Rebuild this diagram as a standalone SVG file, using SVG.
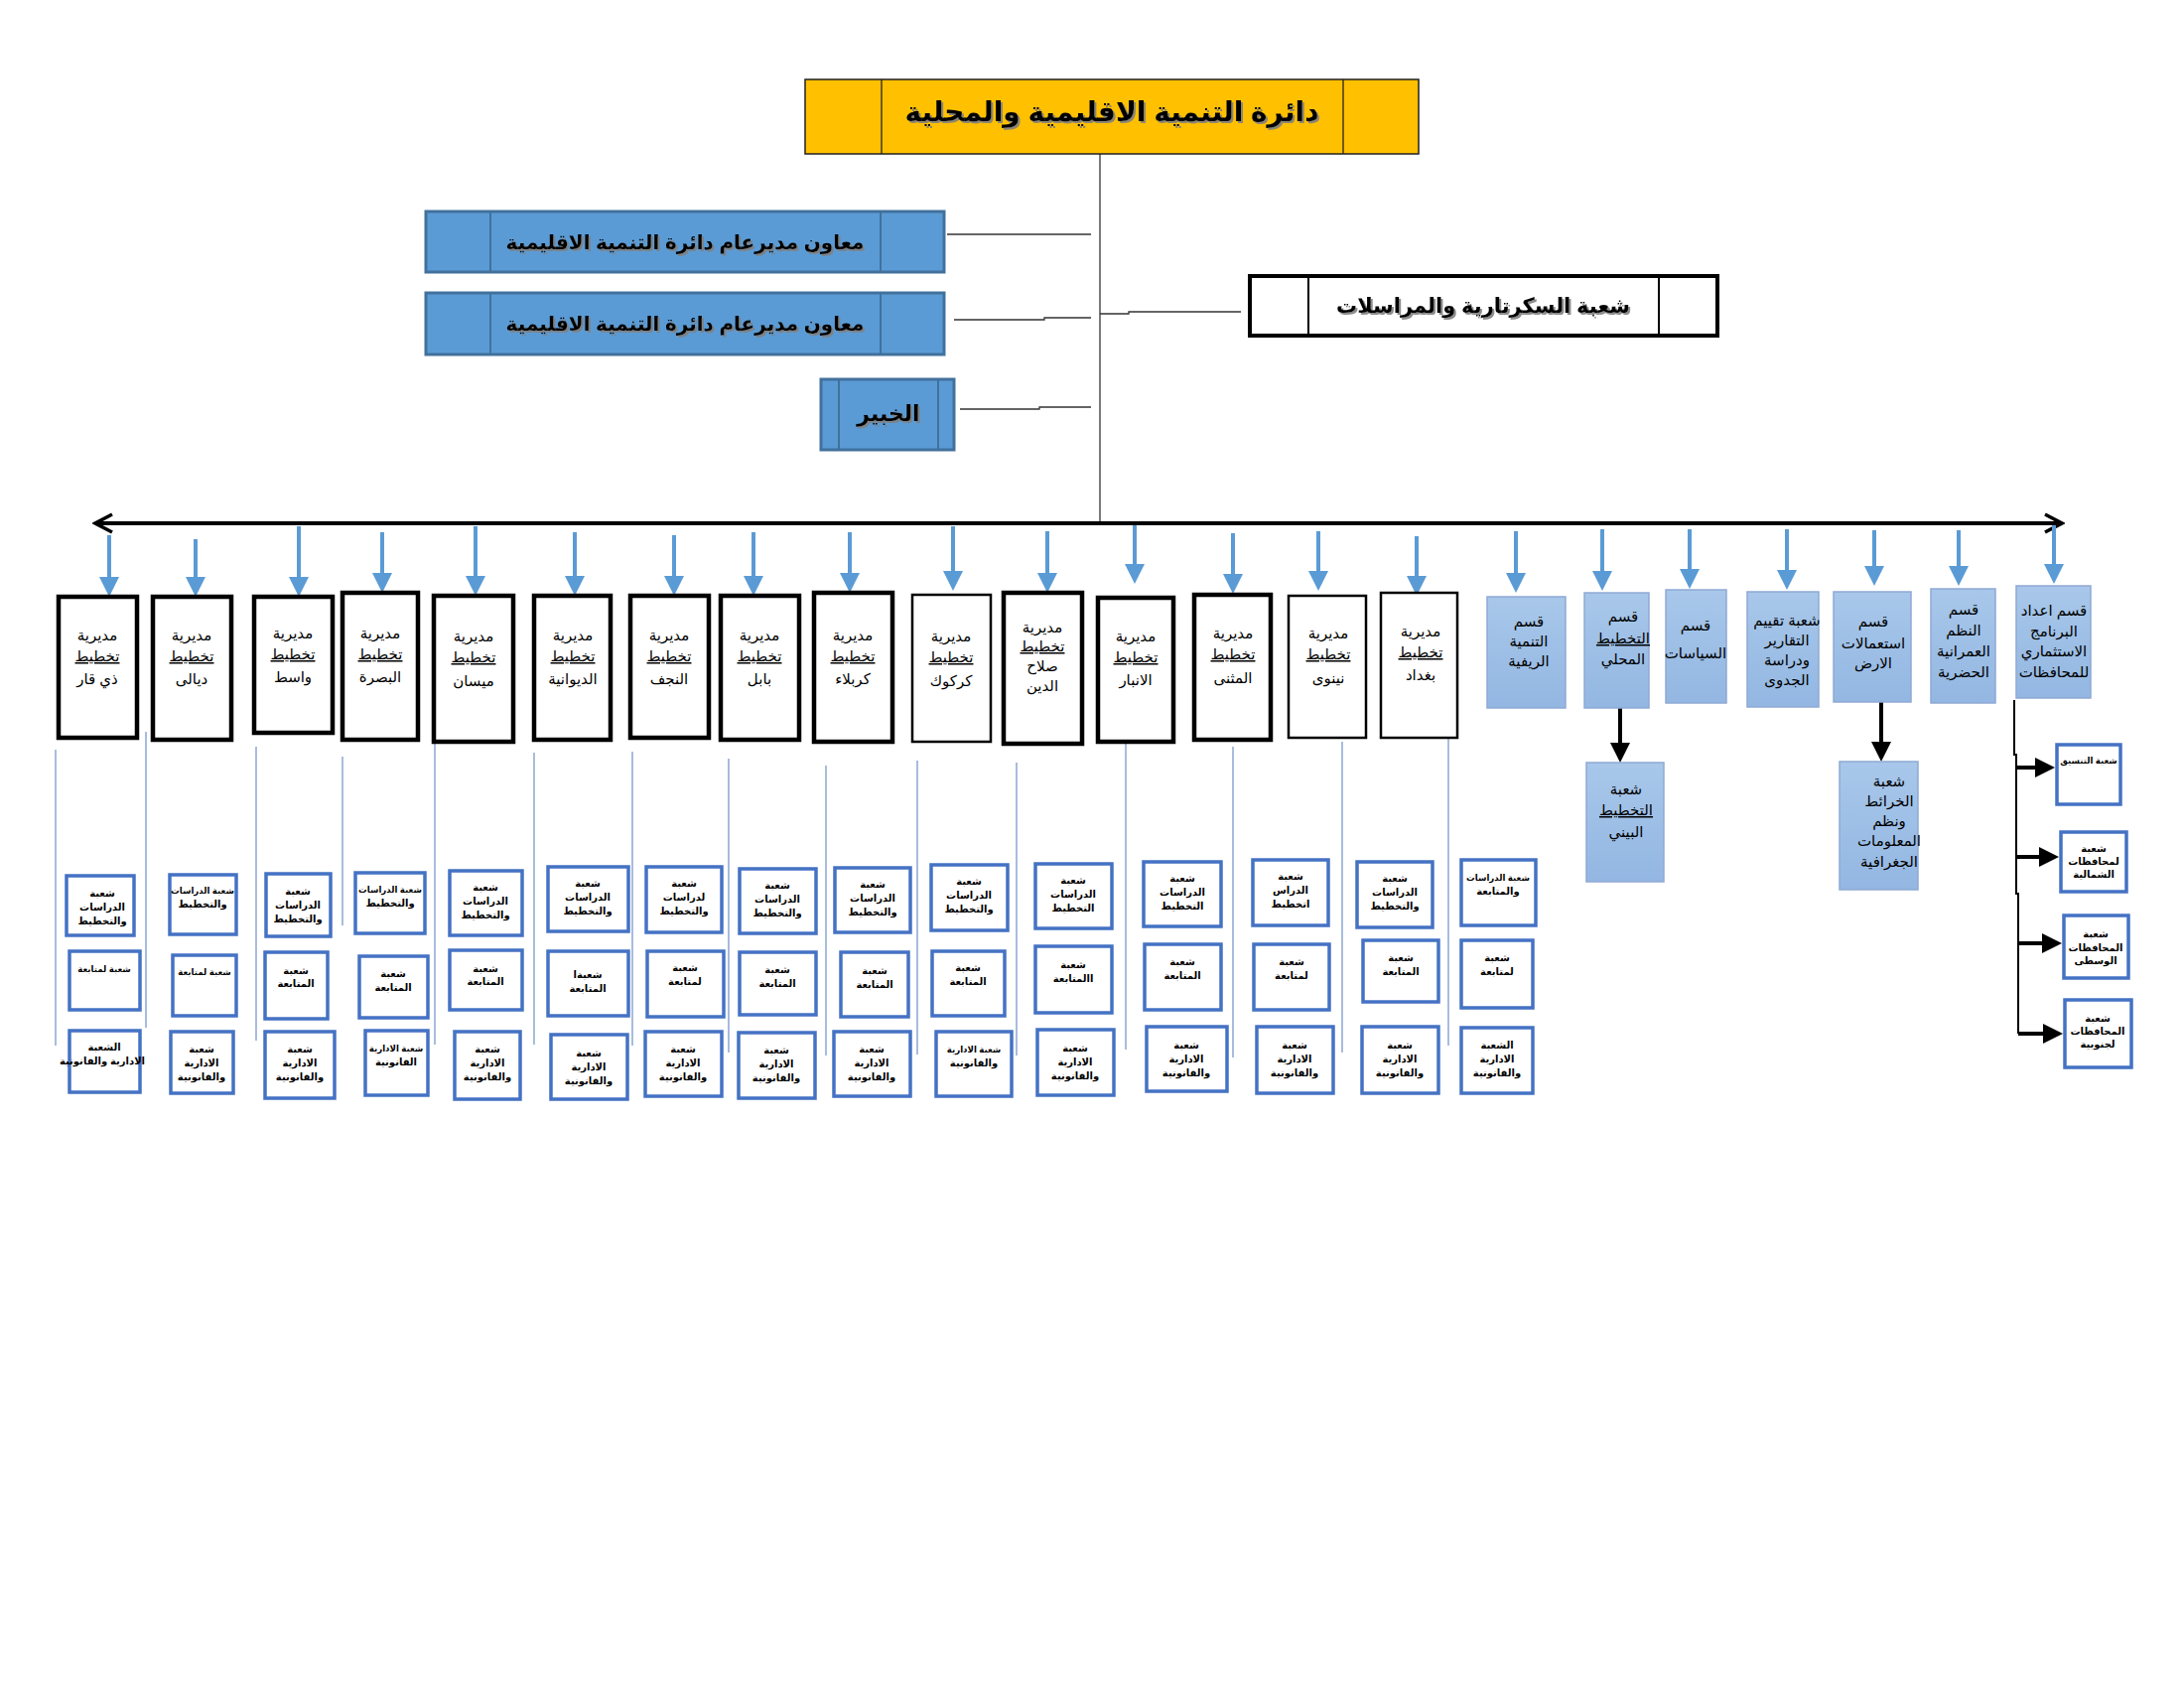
<svg xmlns="http://www.w3.org/2000/svg" width="2200" height="1700" viewBox="0 0 2200 1700">
<defs>
<style>
text{font-family:"Liberation Sans","DejaVu Sans",sans-serif;text-anchor:middle;fill:#000}
.hd{font-weight:bold}
.dir rect{fill:#fff;stroke:#000;stroke-width:4.5}
.dir.thin rect{stroke-width:2.5}
.dir text{font-size:15px}
.sub rect{fill:#fff;stroke:#4472C4;stroke-width:3.5}
.sub text{font-size:10px;font-weight:bold}
.sub text.sm{font-size:8.6px}
.sec rect{fill:url(#gb);stroke:#8EA9D4;stroke-width:1.5}
.sec text{font-size:15px}
.ul{text-decoration:underline}
.ba{stroke:#5B9BD5;stroke-width:4;fill:none}
.ka{stroke:#000;stroke-width:4;fill:none}
.hang{stroke:#6F8FC8;stroke-width:1.2;fill:none}
.thinline{stroke:#333;stroke-width:1.3;fill:none}
.blue rect{fill:#5B9BD5;stroke:#41719C;stroke-width:3}
.blue line{stroke:#41719C;stroke-width:2}
</style>
<linearGradient id="gb" x1="0" y1="0" x2="0" y2="1"><stop offset="0" stop-color="#A8C7EA"/><stop offset="1" stop-color="#93B7E2"/></linearGradient>
<filter id="sh" x="-5%" y="-20%" width="110%" height="140%"><feDropShadow dx="2" dy="2" stdDeviation="0.6" flood-color="#7f7f7f" flood-opacity="0.9"/></filter>
<marker id="mb" viewBox="0 0 20 20" refX="0" refY="10" markerWidth="20" markerHeight="20" markerUnits="userSpaceOnUse" orient="auto"><path d="M0,0 L20,10 L0,20 z" fill="#5B9BD5"/></marker>
<marker id="mk" viewBox="0 0 20 20" refX="0" refY="10" markerWidth="20" markerHeight="20" markerUnits="userSpaceOnUse" orient="auto"><path d="M0,0 L20,10 L0,20 z" fill="#000"/></marker>
<marker id="mo" viewBox="0 0 22 22" refX="19" refY="11" markerWidth="22" markerHeight="22" markerUnits="userSpaceOnUse" orient="auto-start-reverse"><path d="M2,2 L19,11 L2,20" fill="none" stroke="#000" stroke-width="3.5"/></marker>
</defs>
<rect width="2200" height="1700" fill="#fff"/>

<g id="connectors">
<line class="thinline" x1="1108" y1="155" x2="1108" y2="527"/>
<polyline class="thinline" points="954,236 1099,236"/>
<polyline class="thinline" points="961,322 1052,322 1052,320 1099,320"/>
<polyline class="thinline" points="967,412 1047,412 1047,410 1099,410"/>
<polyline class="thinline" points="1108,316 1137,316 1137,314 1250,314"/>
<line x1="96" y1="527" x2="2077" y2="527" stroke="#000" stroke-width="4" marker-start="url(#mo)" marker-end="url(#mo)"/>
<line class="ba" x1="110" y1="539" x2="110" y2="581" marker-end="url(#mb)"/>
<line class="ba" x1="197" y1="543" x2="197" y2="581" marker-end="url(#mb)"/>
<line class="ba" x1="301" y1="530" x2="301" y2="581" marker-end="url(#mb)"/>
<line class="ba" x1="385" y1="536" x2="385" y2="577" marker-end="url(#mb)"/>
<line class="ba" x1="479" y1="530" x2="479" y2="580" marker-end="url(#mb)"/>
<line class="ba" x1="579" y1="536" x2="579" y2="580" marker-end="url(#mb)"/>
<line class="ba" x1="679" y1="539" x2="679" y2="580" marker-end="url(#mb)"/>
<line class="ba" x1="759" y1="536" x2="759" y2="580" marker-end="url(#mb)"/>
<line class="ba" x1="856" y1="536" x2="856" y2="577" marker-end="url(#mb)"/>
<line class="ba" x1="960" y1="530" x2="960" y2="575" marker-end="url(#mb)"/>
<line class="ba" x1="1055" y1="535" x2="1055" y2="577" marker-end="url(#mb)"/>
<line class="ba" x1="1143" y1="529" x2="1143" y2="568" marker-end="url(#mb)"/>
<line class="ba" x1="1242" y1="537" x2="1242" y2="578" marker-end="url(#mb)"/>
<line class="ba" x1="1328" y1="535" x2="1328" y2="575" marker-end="url(#mb)"/>
<line class="ba" x1="1427" y1="540" x2="1427" y2="580" marker-end="url(#mb)"/>
<line class="ba" x1="1527" y1="535" x2="1527" y2="577" marker-end="url(#mb)"/>
<line class="ba" x1="1614" y1="533" x2="1614" y2="575" marker-end="url(#mb)"/>
<line class="ba" x1="1702" y1="533" x2="1702" y2="573" marker-end="url(#mb)"/>
<line class="ba" x1="1800" y1="533" x2="1800" y2="574" marker-end="url(#mb)"/>
<line class="ba" x1="1888" y1="534" x2="1888" y2="570" marker-end="url(#mb)"/>
<line class="ba" x1="1973" y1="534" x2="1973" y2="570" marker-end="url(#mb)"/>
<line class="ba" x1="2069" y1="529" x2="2069" y2="568" marker-end="url(#mb)"/>
<line class="ka" x1="1632" y1="713" x2="1632" y2="748" marker-end="url(#mk)"/>
<line class="ka" x1="1895" y1="707" x2="1895" y2="747" marker-end="url(#mk)"/>
<polyline points="2029,705 2029,760 2031,760 2031,900 2033,900 2033,1041" fill="none" stroke="#000" stroke-width="2"/>
<line class="ka" x1="2030" y1="773" x2="2050" y2="773" marker-end="url(#mk)"/>
<line class="ka" x1="2031" y1="863" x2="2054" y2="863" marker-end="url(#mk)"/>
<line class="ka" x1="2032" y1="950" x2="2057" y2="950" marker-end="url(#mk)"/>
<line class="ka" x1="2033" y1="1041" x2="2058" y2="1041" marker-end="url(#mk)"/>
<line class="hang" x1="56" y1="755" x2="56" y2="1053"/>
<line class="hang" x1="147" y1="737" x2="147" y2="1035"/>
<line class="hang" x1="258" y1="752" x2="258" y2="1048"/>
<line class="hang" x1="345" y1="762" x2="345" y2="932"/>
<line class="hang" x1="438" y1="745" x2="438" y2="1052"/>
<line class="hang" x1="538" y1="758" x2="538" y2="1052"/>
<line class="hang" x1="637" y1="757" x2="637" y2="1053"/>
<line class="hang" x1="734" y1="764" x2="734" y2="1060"/>
<line class="hang" x1="832" y1="771" x2="832" y2="1063"/>
<line class="hang" x1="924" y1="766" x2="924" y2="1062"/>
<line class="hang" x1="1024" y1="768" x2="1024" y2="1063"/>
<line class="hang" x1="1134" y1="745" x2="1134" y2="1057"/>
<line class="hang" x1="1242" y1="752" x2="1242" y2="1065"/>
<line class="hang" x1="1352" y1="747" x2="1352" y2="1060"/>
<line class="hang" x1="1459" y1="738" x2="1459" y2="1053"/>
</g>

<g id="n-title">
<rect x="811" y="80" width="618" height="75" fill="#FFC000" stroke="#222" stroke-width="1.5"/>
<line x1="888" y1="80" x2="888" y2="155" stroke="#222" stroke-width="1.3"/>
<line x1="1353" y1="80" x2="1353" y2="155" stroke="#222" stroke-width="1.3"/>
<text class="hd" x="1120" y="122" font-size="28" filter="url(#sh)">دائرة التنمية الاقليمية والمحلية</text>
</g>
<g id="n-deputy1" class="blue">
<rect x="429" y="213" width="522" height="61"/>
<line x1="494" y1="213" x2="494" y2="274"/><line x1="887" y1="213" x2="887" y2="274"/>
<text class="hd" x="690" y="251" font-size="20" filter="url(#sh)">معاون مديرعام دائرة التنمية الاقليمية</text>
</g>
<g id="n-deputy2" class="blue">
<rect x="429" y="295" width="522" height="62"/>
<line x1="494" y1="295" x2="494" y2="357"/><line x1="887" y1="295" x2="887" y2="357"/>
<text class="hd" x="690" y="333" font-size="20" filter="url(#sh)">معاون مديرعام دائرة التنمية الاقليمية</text>
</g>
<g id="n-expert" class="blue">
<rect x="827" y="382" width="134" height="71"/>
<line x1="845" y1="382" x2="845" y2="453"/><line x1="945" y1="382" x2="945" y2="453"/>
<text class="hd" x="895" y="424" font-size="22" filter="url(#sh)">الخبير</text>
</g>
<g id="n-secretary">
<rect x="1259" y="278" width="471" height="60" fill="#fff" stroke="#000" stroke-width="4"/>
<line x1="1318" y1="278" x2="1318" y2="338" stroke="#000" stroke-width="2"/>
<line x1="1671" y1="278" x2="1671" y2="338" stroke="#000" stroke-width="2"/>
<text class="hd" x="1494" y="315" font-size="21" filter="url(#sh)">شعبة السكرتارية والمراسلات</text>
</g>

<g id="n-d01" class="dir"><rect x="59" y="601" width="79" height="142"/><text x="98" y="645">مديرية</text><text x="98" y="666" class="ul">تخطيط</text><text x="98" y="689">ذي قار</text></g>
<g id="n-d02" class="dir"><rect x="154" y="601" width="79" height="144"/><text x="193" y="645">مديرية</text><text x="193" y="666" class="ul">تخطيط</text><text x="193" y="689">ديالى</text></g>
<g id="n-d03" class="dir"><rect x="256" y="601" width="79" height="137"/><text x="295" y="643">مديرية</text><text x="295" y="664" class="ul">تخطيط</text><text x="295" y="687">واسط</text></g>
<g id="n-d04" class="dir"><rect x="345" y="597" width="76" height="148"/><text x="383" y="643">مديرية</text><text x="383" y="664" class="ul">تخطيط</text><text x="383" y="687">البصرة</text></g>
<g id="n-d05" class="dir"><rect x="437" y="600" width="80" height="147"/><text x="477" y="646">مديرية</text><text x="477" y="667" class="ul">تخطيط</text><text x="477" y="691">ميسان</text></g>
<g id="n-d06" class="dir"><rect x="538" y="600" width="77" height="145"/><text x="577" y="645">مديرية</text><text x="577" y="666" class="ul">تخطيط</text><text x="577" y="689">الديوانية</text></g>
<g id="n-d07" class="dir"><rect x="635" y="600" width="79" height="143"/><text x="674" y="645">مديرية</text><text x="674" y="666" class="ul">تخطيط</text><text x="674" y="689">النجف</text></g>
<g id="n-d08" class="dir"><rect x="726" y="600" width="79" height="145"/><text x="765" y="645">مديرية</text><text x="765" y="666" class="ul">تخطيط</text><text x="765" y="689">بابل</text></g>
<g id="n-d09" class="dir"><rect x="820" y="597" width="79" height="150"/><text x="859" y="645">مديرية</text><text x="859" y="666" class="ul">تخطيط</text><text x="859" y="689">كربلاء</text></g>
<g id="n-d10" class="dir thin"><rect x="919" y="599" width="79" height="148"/><text x="958" y="646">مديرية</text><text x="958" y="667" class="ul">تخطيط</text><text x="958" y="691">كركوك</text></g>
<g id="n-d11" class="dir"><rect x="1011" y="597" width="79" height="152"/><text x="1050" y="637">مديرية</text><text x="1050" y="656" class="ul">تخطيط</text><text x="1050" y="676">صلاح</text><text x="1050" y="696">الدين</text></g>
<g id="n-d12" class="dir"><rect x="1106" y="602" width="76" height="145"/><text x="1144" y="646">مديرية</text><text x="1144" y="667" class="ul">تخطيط</text><text x="1144" y="690">الانبار</text></g>
<g id="n-d13" class="dir"><rect x="1203" y="599" width="77" height="146"/><text x="1242" y="643">مديرية</text><text x="1242" y="664" class="ul">تخطيط</text><text x="1242" y="688">المثنى</text></g>
<g id="n-d14" class="dir thin"><rect x="1298" y="600" width="78" height="143"/><text x="1338" y="643">مديرية</text><text x="1338" y="664" class="ul">تخطيط</text><text x="1338" y="688">نينوى</text></g>
<g id="n-d15" class="dir thin"><rect x="1391" y="597" width="77" height="146"/><text x="1431" y="641">مديرية</text><text x="1431" y="662" class="ul">تخطيط</text><text x="1431" y="685">بغداد</text></g>

<g id="n-s01" class="sec"><rect x="1498" y="601" width="79" height="112"/><text x="1540" y="631">قسم</text><text x="1540" y="651">التنمية</text><text x="1540" y="671">الريفية</text></g>
<g id="n-s02" class="sec"><rect x="1596" y="597" width="65" height="116"/><text x="1635" y="626">قسم</text><text x="1635" y="648" class="ul">التخطيط</text><text x="1635" y="669">المحلي</text></g>
<g id="n-s03" class="sec"><rect x="1678" y="594" width="61" height="114"/><text x="1708" y="635" font-size="12">قسم</text><text x="1708" y="663" font-size="13">السياسات</text></g>
<g id="n-s04" class="sec"><rect x="1760" y="596" width="72" height="116"/><text x="1800" y="630">شعبة تقييم</text><text x="1800" y="650">التقارير</text><text x="1800" y="670">ودراسة</text><text x="1800" y="690">الجدوى</text></g>
<g id="n-s05" class="sec"><rect x="1847" y="596" width="78" height="111"/><text x="1887" y="631" font-size="10">قسم</text><text x="1887" y="653">استعمالات</text><text x="1887" y="673">الارض</text></g>
<g id="n-s06" class="sec"><rect x="1945" y="593" width="65" height="115"/><text x="1978" y="619">قسم</text><text x="1978" y="640">النظم</text><text x="1978" y="661">العمرانية</text><text x="1978" y="682">الحضرية</text></g>
<g id="n-s07" class="sec"><rect x="2031" y="590" width="75" height="113"/><text x="2069" y="620">قسم اعداد</text><text x="2069" y="641">البرنامج</text><text x="2069" y="661">الاستثماري</text><text x="2069" y="682">للمحافظات</text></g>
<g id="n-s08" class="sec"><rect x="1598" y="768" width="78" height="120"/><text x="1638" y="800">شعبة</text><text x="1638" y="821" class="ul">التخطيط</text><text x="1638" y="843">البيني</text></g>
<g id="n-s09" class="sec"><rect x="1853" y="767" width="79" height="129"/><text x="1903" y="792">شعبة</text><text x="1903" y="812">الخرائط</text><text x="1903" y="832">ونظم</text><text x="1903" y="852">المعلومات</text><text x="1903" y="873">الجغرافية</text></g>

<g id="n-b01" class="sub"><rect x="2072" y="750" width="64" height="60"/><text x="2104" y="769" class="sm">شعبة التنسيق</text></g>
<g id="n-b02" class="sub"><rect x="2076" y="838" width="66" height="60"/><text x="2109" y="858" font-size="9.5">شعبة</text><text x="2109" y="871" font-size="9.5">لمحافظات</text><text x="2109" y="884" font-size="9.5">الشمالية</text></g>
<g id="n-b03" class="sub"><rect x="2079" y="922" width="65" height="63"/><text x="2111" y="944" font-size="9.5">شعبة</text><text x="2111" y="958" font-size="9.5">المحافظات</text><text x="2111" y="971" font-size="9.5">الوسطى</text></g>
<g id="n-b04" class="sub"><rect x="2080" y="1007" width="67" height="68"/><text x="2113" y="1029" font-size="9.5">شعبة</text><text x="2113" y="1042" font-size="9.5">المحافظات</text><text x="2113" y="1055" font-size="9.5">لجنوبية</text></g>

<g id="n-c01r1" class="sub"><rect x="67" y="882" width="68" height="60"/><text x="103" y="903">شعبة</text><text x="103" y="917">الدراسات</text><text x="103" y="931">والتخطيط</text></g>
<g id="n-c01r2" class="sub"><rect x="70" y="958" width="71" height="59"/><text x="105" y="979" class="sm">شعبة لمتابعة</text></g>
<g id="n-c01r3" class="sub"><rect x="70" y="1038" width="71" height="62"/><text x="105" y="1058">الشعبة</text><text x="103" y="1072" font-size="7.6px">الادارية والقانونية</text></g>
<g id="n-c02r1" class="sub"><rect x="171" y="881" width="67" height="60"/><text x="204" y="900" class="sm">شعبة الدراسات</text><text x="204" y="914">والتخطيط</text></g>
<g id="n-c02r2" class="sub"><rect x="174" y="962" width="64" height="61"/><text x="206" y="982" class="sm">شعبة لمتابعة</text></g>
<g id="n-c02r3" class="sub"><rect x="172" y="1039" width="63" height="62"/><text x="203" y="1060">شعبة</text><text x="203" y="1074">الادارية</text><text x="203" y="1088">والقانونية</text></g>
<g id="n-c03r1" class="sub"><rect x="268" y="880" width="65" height="63"/><text x="300" y="901">شعبة</text><text x="300" y="915">الدراسات</text><text x="300" y="929">والتخطيط</text></g>
<g id="n-c03r2" class="sub"><rect x="267" y="959" width="63" height="67"/><text x="298" y="981">شعبة</text><text x="298" y="994">المتابعة</text></g>
<g id="n-c03r3" class="sub"><rect x="267" y="1039" width="70" height="67"/><text x="302" y="1060">شعبة</text><text x="302" y="1074">الادارية</text><text x="302" y="1088">والقانونية</text></g>
<g id="n-c04r1" class="sub"><rect x="358" y="879" width="70" height="61"/><text x="393" y="899" class="sm">شعبة الدراسات</text><text x="393" y="913">والتخطيط</text></g>
<g id="n-c04r2" class="sub"><rect x="362" y="963" width="69" height="62"/><text x="396" y="984">شعبة</text><text x="396" y="998">المتابعة</text></g>
<g id="n-c04r3" class="sub"><rect x="368" y="1038" width="63" height="65"/><text x="399" y="1059" class="sm">شعبة الادارية</text><text x="399" y="1073">القانونية</text></g>
<g id="n-c05r1" class="sub"><rect x="453" y="877" width="73" height="65"/><text x="489" y="897">شعبة</text><text x="489" y="911">الدراسات</text><text x="489" y="925">والتخطيط</text></g>
<g id="n-c05r2" class="sub"><rect x="453" y="957" width="73" height="60"/><text x="489" y="979">شعبة</text><text x="489" y="992">المتابعة</text></g>
<g id="n-c05r3" class="sub"><rect x="458" y="1039" width="66" height="68"/><text x="491" y="1060">شعبة</text><text x="491" y="1074">الادارية</text><text x="491" y="1088">والقانونية</text></g>
<g id="n-c06r1" class="sub"><rect x="552" y="873" width="81" height="65"/><text x="592" y="893">شعبة</text><text x="592" y="907">الدراسات</text><text x="592" y="921">والتخطيط</text></g>
<g id="n-c06r2" class="sub"><rect x="552" y="958" width="81" height="65"/><text x="592" y="985">شعبةا</text><text x="592" y="999">المتابعة</text></g>
<g id="n-c06r3" class="sub"><rect x="555" y="1042" width="77" height="65"/><text x="593" y="1064">شعبة</text><text x="593" y="1078">الادارية</text><text x="593" y="1092">والقانونية</text></g>
<g id="n-c07r1" class="sub"><rect x="651" y="873" width="76" height="66"/><text x="689" y="893">شعبة</text><text x="689" y="907">لدراسات</text><text x="689" y="921">والتخطيط</text></g>
<g id="n-c07r2" class="sub"><rect x="652" y="958" width="77" height="66"/><text x="690" y="978">شعبة</text><text x="690" y="992">لمتابعة</text></g>
<g id="n-c07r3" class="sub"><rect x="650" y="1039" width="77" height="65"/><text x="688" y="1060">شعبة</text><text x="688" y="1074">الادارية</text><text x="688" y="1088">والقانونية</text></g>
<g id="n-c08r1" class="sub"><rect x="745" y="875" width="77" height="65"/><text x="783" y="895">شعبة</text><text x="783" y="909">الدراسات</text><text x="783" y="923">والتخطيط</text></g>
<g id="n-c08r2" class="sub"><rect x="745" y="959" width="77" height="63"/><text x="783" y="980">شعبة</text><text x="783" y="994">المتابعة</text></g>
<g id="n-c08r3" class="sub"><rect x="744" y="1040" width="77" height="66"/><text x="782" y="1061">شعبة</text><text x="782" y="1075">الادارية</text><text x="782" y="1089">والقانونية</text></g>
<g id="n-c09r1" class="sub"><rect x="841" y="874" width="76" height="65"/><text x="879" y="894">شعبة</text><text x="879" y="908">الدراسات</text><text x="879" y="922">والتخطيط</text></g>
<g id="n-c09r2" class="sub"><rect x="847" y="959" width="68" height="65"/><text x="881" y="981">شعبة</text><text x="881" y="995">المتابعة</text></g>
<g id="n-c09r3" class="sub"><rect x="840" y="1039" width="77" height="65"/><text x="878" y="1060">شعبة</text><text x="878" y="1074">الادارية</text><text x="878" y="1088">والقانونية</text></g>
<g id="n-c10r1" class="sub"><rect x="938" y="871" width="77" height="66"/><text x="976" y="891">شعبة</text><text x="976" y="905">الدراسات</text><text x="976" y="919">والتخطيط</text></g>
<g id="n-c10r2" class="sub"><rect x="939" y="958" width="73" height="65"/><text x="975" y="978">شعبة</text><text x="975" y="992">المتابعة</text></g>
<g id="n-c10r3" class="sub"><rect x="943" y="1039" width="76" height="65"/><text x="981" y="1060" class="sm">شعبة الادارية</text><text x="981" y="1074">والقانونية</text></g>
<g id="n-c11r1" class="sub"><rect x="1043" y="870" width="77" height="65"/><text x="1081" y="890">شعبة</text><text x="1081" y="904">الدراسات</text><text x="1081" y="918">التخطيط</text></g>
<g id="n-c11r2" class="sub"><rect x="1043" y="953" width="77" height="67"/><text x="1081" y="975">شعبة</text><text x="1081" y="989">االمتابعة</text></g>
<g id="n-c11r3" class="sub"><rect x="1045" y="1037" width="77" height="66"/><text x="1083" y="1059">شعبة</text><text x="1083" y="1073">الادارية</text><text x="1083" y="1087">والقانونية</text></g>
<g id="n-c12r1" class="sub"><rect x="1152" y="868" width="78" height="65"/><text x="1191" y="888">شعبة</text><text x="1191" y="902">الدراسات</text><text x="1191" y="916">التخطيط</text></g>
<g id="n-c12r2" class="sub"><rect x="1153" y="951" width="77" height="66"/><text x="1191" y="972">شعبة</text><text x="1191" y="986">المتابعة</text></g>
<g id="n-c12r3" class="sub"><rect x="1155" y="1034" width="81" height="65"/><text x="1195" y="1056">شعبة</text><text x="1195" y="1070">الادارية</text><text x="1195" y="1084">والقانونية</text></g>
<g id="n-c13r1" class="sub"><rect x="1262" y="866" width="76" height="66"/><text x="1300" y="886">شعبة</text><text x="1300" y="900">الدراس</text><text x="1300" y="914">اتخطيط</text></g>
<g id="n-c13r2" class="sub"><rect x="1263" y="951" width="76" height="66"/><text x="1301" y="972">شعبة</text><text x="1301" y="986">لمتابعة</text></g>
<g id="n-c13r3" class="sub"><rect x="1266" y="1034" width="77" height="67"/><text x="1304" y="1056">شعبة</text><text x="1304" y="1070">الادارية</text><text x="1304" y="1084">والقانونية</text></g>
<g id="n-c14r1" class="sub"><rect x="1367" y="868" width="76" height="66"/><text x="1405" y="888">شعبة</text><text x="1405" y="902">الدراسات</text><text x="1405" y="916">والتخطيط</text></g>
<g id="n-c14r2" class="sub"><rect x="1373" y="947" width="76" height="62"/><text x="1411" y="968">شعبة</text><text x="1411" y="982">المتابعة</text></g>
<g id="n-c14r3" class="sub"><rect x="1372" y="1034" width="77" height="67"/><text x="1410" y="1056">شعبة</text><text x="1410" y="1070">الادارية</text><text x="1410" y="1084">والقانونية</text></g>
<g id="n-c15r1" class="sub"><rect x="1472" y="866" width="75" height="66"/><text x="1509" y="887" class="sm">شعبة الدراسات</text><text x="1509" y="901">والمتابعة</text></g>
<g id="n-c15r2" class="sub"><rect x="1472" y="947" width="72" height="68"/><text x="1508" y="968">شعبة</text><text x="1508" y="982">لمتابعة</text></g>
<g id="n-c15r3" class="sub"><rect x="1472" y="1035" width="72" height="66"/><text x="1508" y="1056">الشعبة</text><text x="1508" y="1070">الادارية</text><text x="1508" y="1084">والقانونية</text></g>
</svg>
